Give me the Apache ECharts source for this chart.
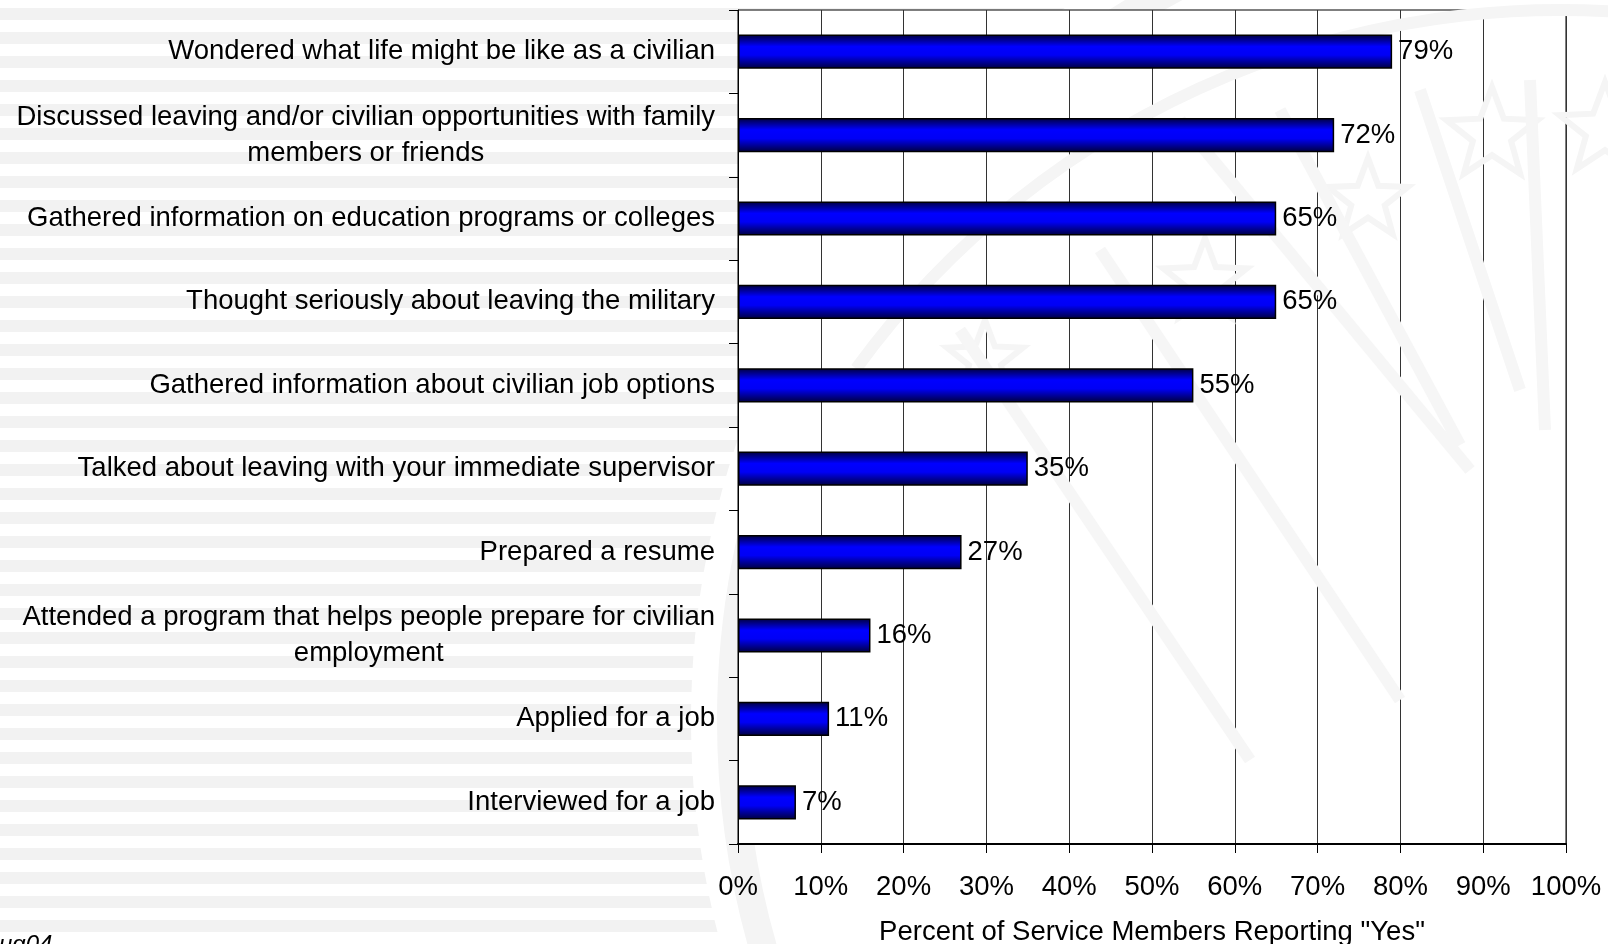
<!DOCTYPE html>
<html>
<head>
<meta charset="utf-8">
<title>Career intentions</title>
<script src="https://cdn.jsdelivr.net/npm/echarts@6/dist/echarts.min.js"></script>
<style>
  html, body { margin: 0; padding: 0; background: #fff; }
  #chart { width: 1608px; height: 944px; }
</style>
</head>
<body>
<div id="chart"></div>
<script>
// Activities reported by service members (share answering "Yes")
const categories = [
  'Wondered what life might be like as a civilian',
  'Discussed leaving and/or civilian opportunities with family\nmembers or friends',
  'Gathered information on education programs or colleges',
  'Thought seriously about leaving the military',
  'Gathered information about civilian job options',
  'Talked about leaving with your immediate supervisor',
  'Prepared a resume',
  'Attended a program that helps people prepare for civilian\nemployment',
  'Applied for a job',
  'Interviewed for a job'
];
const values = [79, 72, 65, 65, 55, 35, 27, 16, 11, 7];
const axisTitle = 'Percent of Service Members Reporting "Yes"';
const footnote = 'Aug04';

const FONT = "'Liberation Sans', Arial, Helvetica, sans-serif";
const FS = 27.5;
const W = 1608, H = 944;

// multi-line category labels: each line centred inside the label block
const rich = {
  c: { align: 'center', fontFamily: FONT, fontSize: FS, color: '#000', lineHeight: 36 }
};
function catLabel(v) {
  if (v.indexOf('\n') < 0) return v;
  return v.split('\n').map(function (l) { return '{c|' + l + '}'; }).join('\n');
}

// background: horizontal pinstripes, then a faint seal watermark
const bg = [];
for (let y = 8; y < H; y += 24) {
  bg.push({ type: 'rect', z: -20, silent: true,
    shape: { x: 0, y: y, width: W, height: 12 }, style: { fill: '#f2f2f2' } });
}
const sealC = [1556, 720], sealR = 865;
bg.push({ type: 'circle', z: -19, silent: true,
  shape: { cx: sealC[0], cy: sealC[1], r: sealR }, style: { fill: '#fff' } });
bg.push({ type: 'circle', z: -18, silent: true,
  shape: { cx: sealC[0], cy: sealC[1], r: sealR - 40 },
  style: { fill: 'none', stroke: '#f4f4f4', lineWidth: 28 } });

function star(cx, cy, r) {
  const pts = [];
  for (let i = 0; i < 10; i++) {
    const a = -Math.PI / 2 + i * Math.PI / 5;
    const rr = i % 2 === 0 ? r : r * 0.42;
    pts.push([cx + rr * Math.cos(a), cy + rr * Math.sin(a)]);
  }
  return { type: 'polygon', z: 1, silent: true, shape: { points: pts },
    style: { fill: 'none', stroke: '#f5f5f5', lineWidth: 6, lineJoin: 'miter' } };
}
bg.push(star(1492, 135, 48));
bg.push(star(1605, 130, 48));
bg.push(star(1368, 200, 42));
bg.push(star(1205, 282, 44));
bg.push(star(985, 360, 40));
// rays of the seal
[[1180, 120, 1470, 470], [1280, 110, 1460, 445], [1420, 90, 1520, 390],
 [1530, 80, 1545, 430], [1100, 250, 1400, 700], [960, 330, 1250, 760]]
  .forEach(function (s) {
    bg.push({ type: 'line', z: 1, silent: true,
      shape: { x1: s[0], y1: s[1], x2: s[2], y2: s[3] },
      style: { stroke: '#f6f6f6', lineWidth: 12 } });
  });
// arc near the top of the seal
bg.push({ type: 'arc', z: 1, silent: true,
  shape: { cx: 1560, cy: 880, r: 870, startAngle: Math.PI * 1.2, endAngle: Math.PI * 1.55 },
  style: { fill: 'none', stroke: '#f5f5f5', lineWidth: 12 } });

// footnote, partly running off the left edge
bg.push({ type: 'text', z: 5, silent: true, left: -17, top: 933,
  style: { text: footnote, font: 'italic 24px ' + FONT, fill: '#000' } });

const chart = echarts.init(document.getElementById('chart'), null, { renderer: 'canvas' });
chart.setOption({
  animation: false,
  backgroundColor: '#fff',
  graphic: { elements: bg },
  grid: {
    left: 738, right: 42, top: 10, bottom: 100,
    show: true, backgroundColor: '#fff', borderColor: '#000', borderWidth: 1,
    containLabel: false, outerBoundsMode: 'none'
  },
  xAxis: {
    type: 'value', min: 0, max: 100, interval: 10,
    name: axisTitle, nameLocation: 'middle', nameGap: 74,
    nameTextStyle: { fontFamily: FONT, fontSize: FS, color: '#000' },
    axisLine: { show: true, lineStyle: { color: '#000', width: 2 } },
    axisTick: { show: true, length: 9, lineStyle: { color: '#000', width: 1 } },
    axisLabel: { formatter: '{value}%', margin: 29, fontFamily: FONT, fontSize: FS, color: '#000' },
    splitLine: { show: true, lineStyle: { color: '#333', width: 1 } }
  },
  yAxis: {
    type: 'category', data: categories, inverse: true,
    axisLine: { show: true, lineStyle: { color: '#000', width: 1 } },
    axisTick: { show: true, length: 9, interval: 0, lineStyle: { color: '#000', width: 1 } },
    axisLabel: {
      interval: 0, margin: 23, formatter: catLabel, rich: rich,
      fontFamily: FONT, fontSize: FS, color: '#000', lineHeight: 36, align: 'right'
    },
    splitLine: { show: false }
  },
  series: [{
    type: 'bar', data: values, barWidth: '41%',
    itemStyle: {
      color: new echarts.graphic.LinearGradient(0, 0, 0, 1, [
        { offset: 0, color: '#00003c' },
        { offset: 0.35, color: '#0000ff' },
        { offset: 0.6, color: '#0000f5' },
        { offset: 1, color: '#00003c' }
      ]),
      borderColor: '#000', borderWidth: 1.5
    },
    label: {
      show: true, position: 'right', distance: 6, formatter: '{c}%',
      fontFamily: FONT, fontSize: FS, color: '#000'
    }
  }]
});
</script>
</body>
</html>
